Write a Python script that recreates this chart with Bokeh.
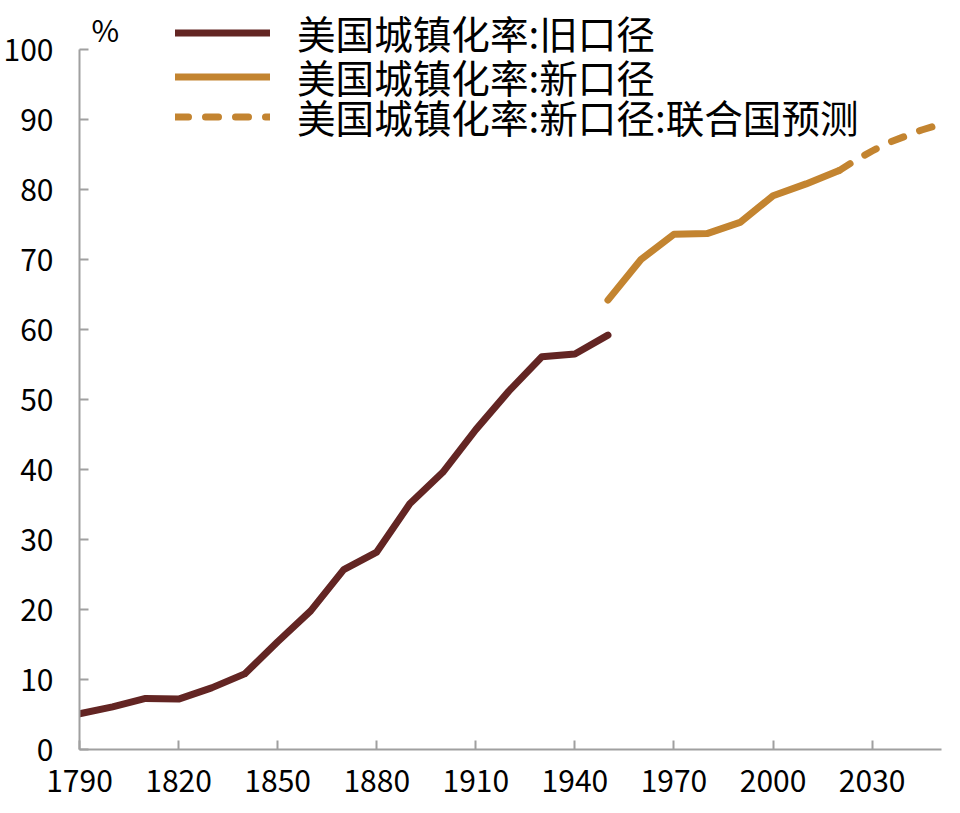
from bokeh.plotting import figure
from bokeh.models import FixedTicker, Legend, LegendItem, Label
from bokeh.embed import file_html
from bokeh.resources import INLINE

# Data
old_years = [1790, 1800, 1810, 1820, 1830, 1840, 1850, 1860, 1870, 1880,
             1890, 1900, 1910, 1920, 1930, 1940, 1950]
old_vals = [5.1, 6.1, 7.3, 7.2, 8.8, 10.8, 15.4, 19.8, 25.7, 28.2,
            35.1, 39.6, 45.7, 51.2, 56.1, 56.5, 59.2]

new_years = [1950, 1960, 1970, 1980, 1990, 2000, 2010, 2020]
new_vals = [64.2, 70.0, 73.6, 73.7, 75.3, 79.1, 80.8, 82.7]

proj_years = [2020, 2025, 2030, 2035, 2040, 2045, 2050]
proj_vals = [82.7, 84.2, 85.5, 86.7, 87.6, 88.5, 89.2]

x_ticks = [1790, 1820, 1850, 1880, 1910, 1940, 1970, 2000, 2030]
y_ticks = [0, 10, 20, 30, 40, 50, 60, 70, 80, 90, 100]

labels = ["美国城镇化率:旧口径", "美国城镇化率:新口径", "美国城镇化率:新口径:联合国预测"]

C_OLD = "#632523"
C_NEW = "#C38430"
AXIS = "#A0A0A0"
FONT = "Noto Sans CJK SC"

p = figure(width=953, height=805, output_backend="svg", toolbar_location=None,
           x_range=(1790, 2051), y_range=(0, 107),
           min_border_left=75, min_border_right=12, min_border_top=0,
           min_border_bottom=56)
p.outline_line_color = None
p.xgrid.visible = False
p.ygrid.visible = False
p.background_fill_color = "white"
p.border_fill_color = "white"

for ax in (p.xaxis[0], p.yaxis[0]):
    ax.axis_line_color = AXIS
    ax.axis_line_width = 2
    ax.major_tick_line_color = AXIS
    ax.major_tick_line_width = 2
    ax.major_tick_in = 9
    ax.major_tick_out = 0
    ax.minor_tick_line_color = None
    ax.major_label_text_font = FONT
    ax.major_label_text_font_size = "30px"
    ax.major_label_text_color = "black"

p.xaxis[0].ticker = FixedTicker(ticks=x_ticks)
p.yaxis[0].ticker = FixedTicker(ticks=y_ticks)
p.yaxis[0].bounds = (0, 100)
p.xaxis[0].major_label_standoff = 20
p.yaxis[0].major_label_standoff = 26

r_old = p.line(old_years, old_vals, line_color=C_OLD, line_width=7,
               line_cap="round", line_join="round")
r_new = p.line(new_years, new_vals, line_color=C_NEW, line_width=7,
               line_cap="round", line_join="round")
r_proj = p.line(proj_years, proj_vals, line_color=C_NEW, line_width=7,
                line_cap="round", line_join="round", line_dash="13 17")

row_vy = [689, 645, 605]
for lab, r, vy in zip(labels, [r_old, r_new, r_proj], row_vy):
    lg = Legend(items=[LegendItem(label=lab, renderers=[r])],
                location=(96, vy), orientation="vertical",
                glyph_width=95, glyph_height=55, label_height=55,
                spacing=0, padding=0, margin=0, label_standoff=27,
                label_text_font=FONT, label_text_font_size="38.6px",
                label_text_color="black",
                border_line_color=None, background_fill_alpha=0)
    p.add_layout(lg, "center")

pct = Label(x=1793.6, y=103, text="%", text_font=FONT, text_font_size="30px",
            text_color="black", text_align="left", text_baseline="alphabetic")
p.add_layout(pct)

open("out.html", "w").write(file_html(p, INLINE))
